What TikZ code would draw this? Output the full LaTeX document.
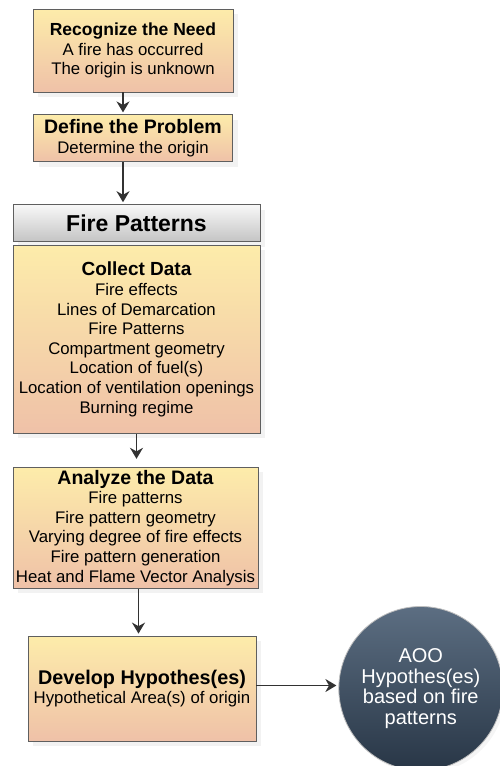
\documentclass[tikz,border=0pt]{standalone}
\usepackage{fontspec}
\setmainfont{Liberation Sans}
\usetikzlibrary{arrows.meta,positioning,shadows}

\definecolor{boxtop}{RGB}{253,236,170}
\definecolor{boxbot}{RGB}{239,193,168}
\definecolor{boxline}{RGB}{95,95,95}
\definecolor{headtop}{RGB}{248,248,248}
\definecolor{headbot}{RGB}{196,196,196}
\definecolor{circtop}{RGB}{92,110,130}
\definecolor{circbot}{RGB}{40,54,70}
\definecolor{arrowgray}{RGB}{50,50,50}

\begin{document}
\begin{tikzpicture}[x=1pt,y=-1pt,->,>={Stealth[length=11pt,width=13pt]},
  line width=1.7pt,draw=arrowgray,shorten >=2pt,
  step box/.style={rectangle,draw=boxline,line width=0.8pt,inner sep=0pt,
    top color=boxtop,bottom color=boxbot,align=center,
    font=\fontsize{16.8}{19.6}\selectfont,
    drop shadow={shadow xshift=5pt,shadow yshift=-5pt,fill=black!10}},
  head box/.style={rectangle,draw=boxline,line width=0.8pt,inner sep=0pt,
    top color=headtop,bottom color=headbot,
    font=\fontsize{23}{24}\selectfont\bfseries,
    drop shadow={shadow xshift=5pt,shadow yshift=-5pt,fill=black!10}},
  end node/.style={circle,draw=black!25,line width=0.8pt,inner sep=0pt,
    top color=circtop,bottom color=circbot,align=center,text=white,
    font=\fontsize{20}{20.5}\selectfont,
    drop shadow={shadow xshift=3pt,shadow yshift=-3pt,fill=black!8}}]

  \useasboundingbox (0,0) rectangle (499,766);

  \node[step box,minimum width=200pt,minimum height=83pt] (need) at (133,50.5)
    {{\fontsize{17.5}{19.6}\selectfont\bfseries Recognize the Need}\\A fire has occurred\\The origin is unknown};
  \node[step box,minimum width=199pt,minimum height=47pt] (problem) [below=22pt of need]
    {{\fontsize{19.5}{19.6}\selectfont\bfseries Define the Problem}\\Determine the origin};
  \node[head box,minimum width=247pt,minimum height=37pt] (patterns) [below=42pt of problem,xshift=3.5pt]
    {Fire Patterns};
  \node[step box,minimum width=247pt,minimum height=188pt] (collect) [below=3pt of patterns]
    {{\fontsize{19}{19.6}\selectfont\bfseries Collect Data}\\Fire effects\\Lines of Demarcation\\
     Fire Patterns\\Compartment geometry\\Location of fuel(s)\\
     Location of ventilation openings\\Burning regime};
  \node[step box,minimum width=245pt,minimum height=121pt] (analyze) [below=33pt of collect,xshift=-1pt]
    {{\fontsize{19.5}{19.6}\selectfont\bfseries Analyze the Data}\\Fire patterns\\Fire pattern geometry\\
     Varying degree of fire effects\\Fire pattern generation\\Heat and Flame Vector Analysis};
  \node[step box,minimum width=228pt,minimum height=105pt] (develop) [below=47pt of analyze,xshift=6.5pt]
    {{\fontsize{19.8}{19.6}\selectfont\bfseries Develop Hypothes(es)}\\Hypothetical Area(s) of origin};
  \node[end node,minimum size=164pt] (aoo) [right=82pt of develop]
    {AOO\\Hypothes(es)\\based on fire\\patterns};

  \draw ([xshift=-10pt]need.south) -- ([xshift=-10pt]problem.north);
  \draw ([xshift=-10pt]problem.south) -- ([xshift=-10pt]problem.south |- patterns.north);
  \draw[shorten >=8pt] (collect.south) -- (collect.south |- analyze.north);
  \draw ([xshift=3pt]analyze.south) -- ([xshift=3pt]analyze.south |- develop.north);
  \draw ([yshift=3pt]develop.east) -- ([yshift=3pt]develop.east -| aoo.west);

\end{tikzpicture}
\end{document}
